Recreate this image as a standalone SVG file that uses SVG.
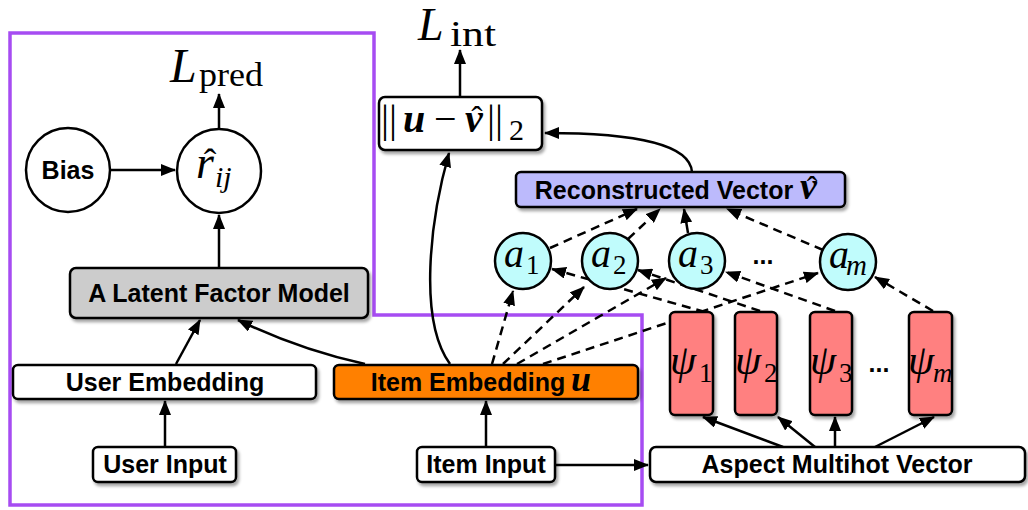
<svg xmlns="http://www.w3.org/2000/svg" width="1028" height="510" viewBox="0 0 1028 510">
<defs>
  <marker id="ah" markerUnits="userSpaceOnUse" markerWidth="15" markerHeight="12" refX="14" refY="6" orient="auto">
    <path d="M0,0 L15,6 L0,12 z" fill="#000"/>
  </marker>
  <filter id="sh" x="-10%" y="-10%" width="130%" height="150%">
    <feDropShadow dx="2" dy="3" stdDeviation="1.5" flood-color="#000" flood-opacity="0.35"/>
  </filter>
</defs>
<style>
  .box{stroke:#000;stroke-width:2.5;filter:url(#sh)}
  .circ{stroke:#000;stroke-width:2.5}
  .lbl{font-family:"Liberation Sans",Arial,sans-serif;font-weight:bold;font-size:25px;text-anchor:middle;fill:#000}
  .mi{font-family:"Liberation Serif","Times New Roman",serif;font-style:italic;fill:#000}
  .rm{font-family:"Liberation Serif","Times New Roman",serif;font-style:normal;fill:#000}
  .bi{font-family:"Liberation Serif","Times New Roman",serif;font-style:italic;font-weight:bold;fill:#000}
  .ln{stroke:#000;stroke-width:2.5;fill:none;marker-end:url(#ah)}
  .ds{stroke-dasharray:9 6}
  .frame{fill:none;stroke:#a64cf2;stroke-width:3.5}
</style>
<rect width="1028" height="510" fill="#fff"/>

<g id="frame"><path class="frame" d="M10,33 H374 V315 H642 V505 H10 Z"/></g>

<g id="connectors">
  <path class="ln" d="M219,128 V94"/>
  <path class="ln" d="M111,170 H175"/>
  <path class="ln" d="M219,268 V215"/>
  <path class="ln" d="M176,364 L200,320"/>
  <path class="ln" d="M365,364 Q300,350 238,320"/>
  <path class="ln" d="M165,447 V401"/>
  <path class="ln" d="M486,447 V401"/>
  <path class="ln" d="M556,465 H648"/>
  <path class="ln" d="M460,96 V50"/>
  <path class="ln" d="M450,364 C418,320 430,220 449,153"/>
  <path class="ln" d="M692,172 C690,145 640,133 545,133"/>
  <path class="ln ds" d="M550,248 L637,209"/>
  <path class="ln ds" d="M628,239 L660,209"/>
  <path class="ln" d="M688,233 L684,209"/>
  <path class="ln ds" d="M823,250 L727,209"/>
  <path class="ln ds" d="M492,364 L513,291"/>
  <path class="ln ds" d="M503,364 L584,287"/>
  <path class="ln ds" d="M517,364 L666,278"/>
  <path class="ln ds" d="M543,364 L818,273"/>
  <path class="ln ds" d="M705,312 L552,269"/>
  <path class="ln ds" d="M760,311 L638,270"/>
  <path class="ln ds" d="M835,311 L726,272"/>
  <path class="ln ds" d="M933,311 L875,277"/>
  <path class="ln" d="M783,447 L703,417"/>
  <path class="ln" d="M815,447 L778,417"/>
  <path class="ln" d="M835,447 V417"/>
  <path class="ln" d="M875,447 L934,417"/>
</g>

<g id="L_pred">
  <text class="mi" x="170" y="82" font-size="48">L</text>
  <text class="rm" x="199" y="86" font-size="34" textLength="64" lengthAdjust="spacingAndGlyphs">pred</text>
</g>
<g id="L_int">
  <text class="mi" x="418" y="40" font-size="46">L</text>
  <text class="rm" x="450" y="46" font-size="35" textLength="46" lengthAdjust="spacingAndGlyphs">int</text>
</g>

<g id="bias">
  <circle class="circ" cx="68" cy="170" r="42" fill="#fff"/>
  <text class="lbl" x="68" y="179">Bias</text>
</g>
<g id="rhat">
  <circle class="circ" cx="219" cy="171" r="42" fill="#fff"/>
  <text class="mi" x="196" y="178" font-size="46">r</text>
  <text class="rm" x="210" y="175" font-size="38" text-anchor="middle">ˆ</text>
  <text class="mi" x="215" y="187" font-size="30">ij</text>
</g>
<g id="lfm">
  <rect class="box" x="70" y="268" width="298" height="50" rx="6" fill="#cccccc"/>
  <text class="lbl" x="219" y="302">A Latent Factor Model</text>
</g>
<g id="user-emb">
  <rect class="box" x="13" y="365" width="303" height="34" rx="5" fill="#fff"/>
  <text class="lbl" x="165" y="391">User Embedding</text>
</g>
<g id="item-emb">
  <rect class="box" x="334" y="365" width="304" height="34" rx="5" fill="#ff8000"/>
  <text class="lbl" x="468" y="391">Item Embedding</text>
  <text class="bi" x="571" y="391" font-size="36">u</text>
</g>
<g id="user-input">
  <rect class="box" x="93" y="447" width="143" height="35" rx="5" fill="#fff"/>
  <text class="lbl" x="165" y="473">User Input</text>
</g>
<g id="item-input">
  <rect class="box" x="417" y="447" width="138" height="35" rx="5" fill="#fff"/>
  <text class="lbl" x="486" y="473">Item Input</text>
</g>
<g id="aspect">
  <rect class="box" x="650" y="447" width="375" height="35" rx="6" fill="#fff"/>
  <text class="lbl" x="837" y="473">Aspect Multihot Vector</text>
</g>
<g id="norm">
  <rect class="box" x="379" y="97" width="163" height="53" rx="6" fill="#fff"/>
  <text class="rm" x="381" y="132" font-size="40">||</text>
  <text class="bi" x="403" y="132" font-size="40">u</text>
  <text class="rm" x="434" y="132" font-size="40">−</text>
  <text class="bi" x="465" y="132" font-size="40">v</text>
  <text class="rm" x="477" y="130" font-size="34" text-anchor="middle">ˆ</text>
  <text class="rm" x="487" y="132" font-size="40">||</text>
  <text class="rm" x="509" y="140" font-size="30">2</text>
</g>
<g id="recon">
  <rect class="box" x="516" y="172" width="329" height="35" rx="5" fill="#bcbafc"/>
  <text class="lbl" x="664" y="199">Reconstructed Vector</text>
  <text class="bi" x="800" y="199" font-size="38">v</text>
  <text class="rm" x="812" y="198" font-size="32" text-anchor="middle">ˆ</text>
</g>
<g id="a1">
  <circle class="circ" cx="523" cy="261" r="28" fill="#c0fcfc"/>
  <text class="mi" x="504" y="267" font-size="40">a</text>
  <text class="rm" x="526" y="274" font-size="27">1</text>
</g>
<g id="a2">
  <circle class="circ" cx="610" cy="261" r="28" fill="#c0fcfc"/>
  <text class="mi" x="591" y="267" font-size="40">a</text>
  <text class="rm" x="613" y="274" font-size="27">2</text>
</g>
<g id="a3">
  <circle class="circ" cx="697" cy="261" r="28" fill="#c0fcfc"/>
  <text class="mi" x="678" y="267" font-size="40">a</text>
  <text class="rm" x="700" y="274" font-size="27">3</text>
</g>
<text id="dots-a" class="lbl" x="763" y="264" font-size="24">...</text>
<g id="am">
  <circle class="circ" cx="848" cy="262" r="28" fill="#c0fcfc"/>
  <text class="mi" x="829" y="268" font-size="40">a</text>
  <text class="mi" x="846" y="275" font-size="29">m</text>
</g>
<g id="psi1">
  <rect class="box" x="670" y="312" width="43" height="103" rx="5" fill="#ff8080"/>
  <text class="mi" x="670" y="374" font-size="42">ψ</text>
  <text class="rm" x="699" y="382" font-size="27">1</text>
</g>
<g id="psi2">
  <rect class="box" x="735" y="312" width="42" height="103" rx="5" fill="#ff8080"/>
  <text class="mi" x="735" y="374" font-size="42">ψ</text>
  <text class="rm" x="764" y="382" font-size="27">2</text>
</g>
<g id="psi3">
  <rect class="box" x="810" y="312" width="42" height="103" rx="5" fill="#ff8080"/>
  <text class="mi" x="810" y="374" font-size="42">ψ</text>
  <text class="rm" x="839" y="382" font-size="27">3</text>
</g>
<text id="dots-psi" class="lbl" x="879" y="372" font-size="24">...</text>
<g id="psim">
  <rect class="box" x="909" y="312" width="43" height="103" rx="5" fill="#ff8080"/>
  <text class="mi" x="908" y="374" font-size="42">ψ</text>
  <text class="mi" x="933" y="382" font-size="27">m</text>
</g>
</svg>
